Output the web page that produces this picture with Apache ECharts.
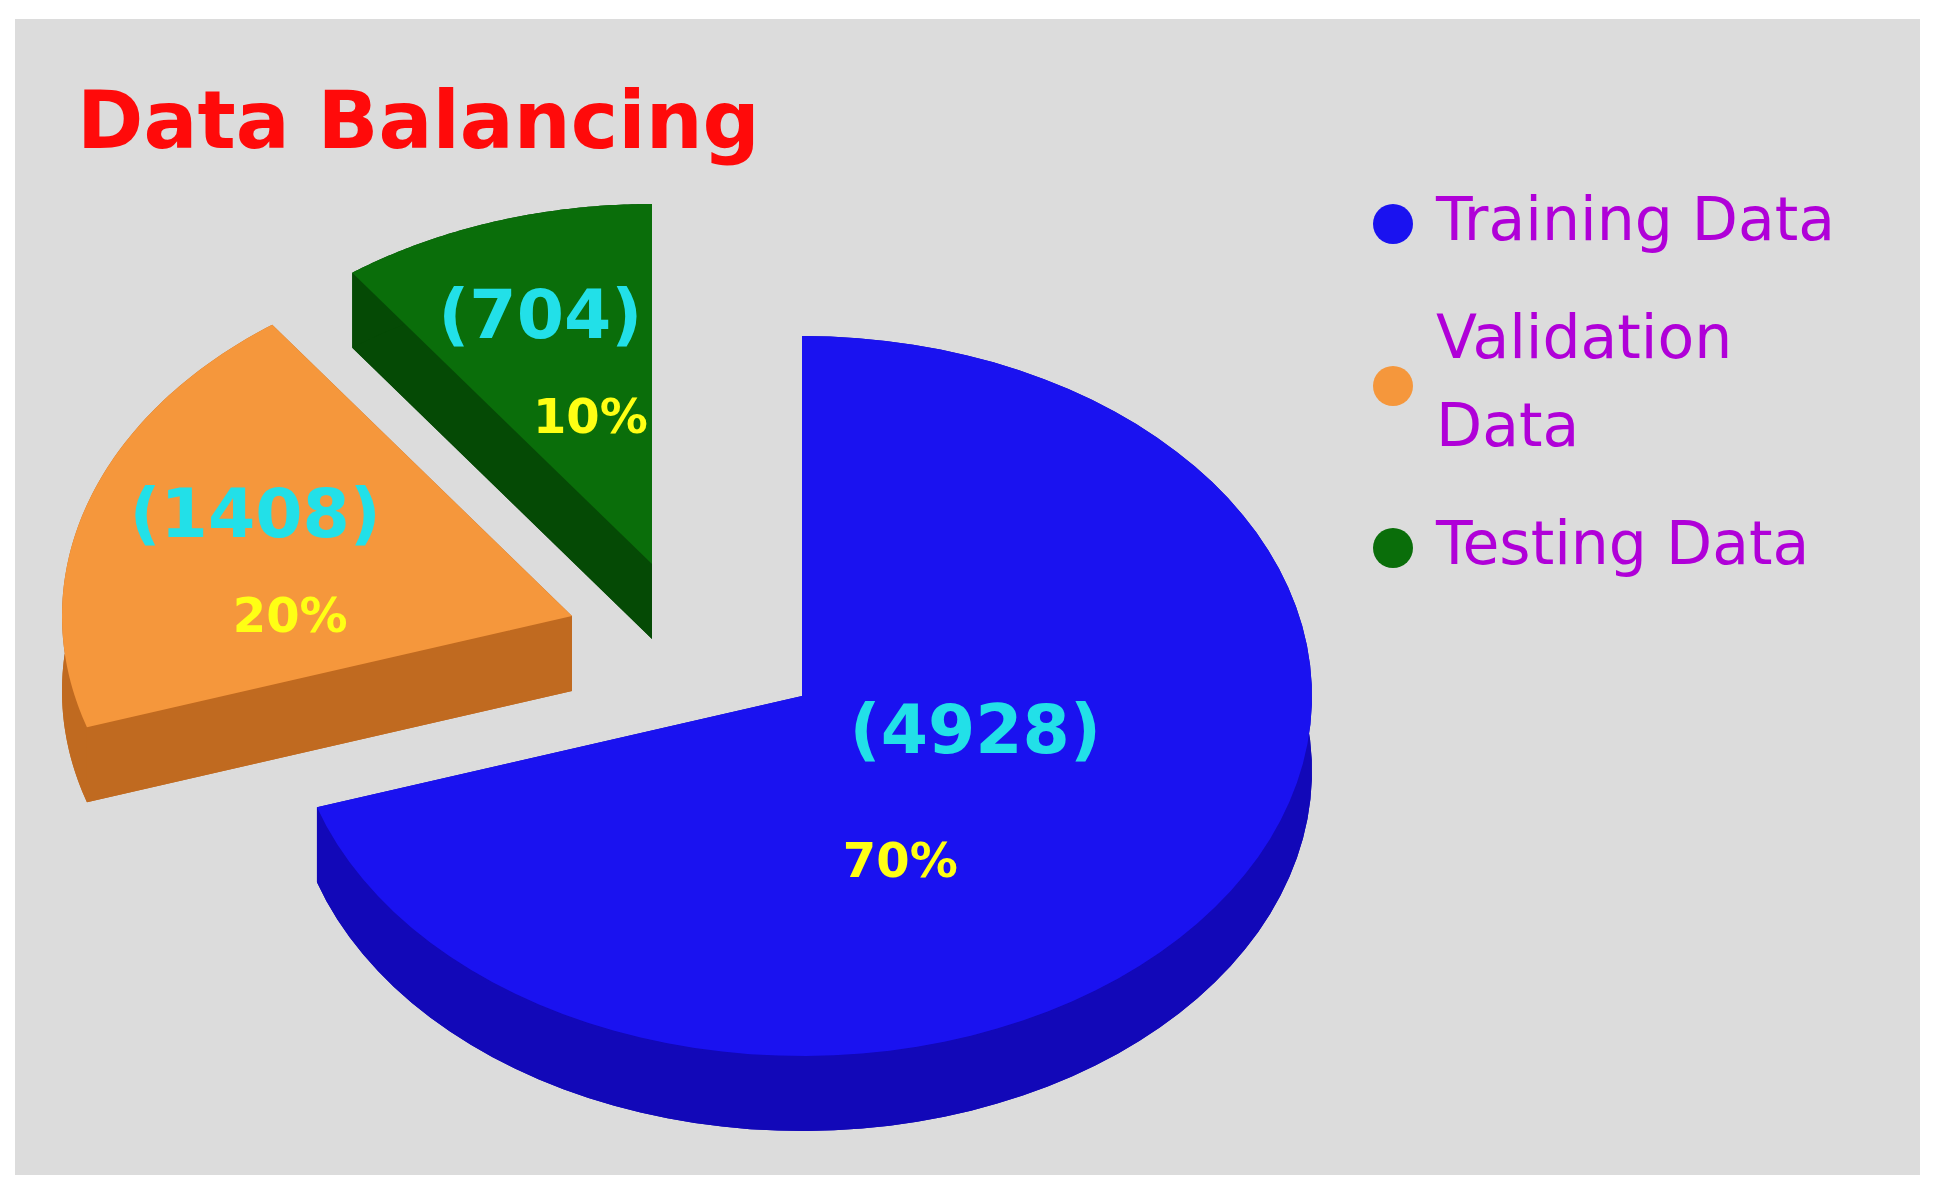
<!DOCTYPE html>
<html>
<head>
<meta charset="utf-8">
<script src="https://cdn.jsdelivr.net/npm/echarts@6/dist/echarts.min.js"></script>
<style>html,body{margin:0;background:#fff}</style>
</head>
<body>
<div id="main" style="width:1939px;height:1192px"></div>
<script>
var names = ['Training Data', 'Validation Data', 'Testing Data'];
var legendNames = ['Training Data', 'Validation\nData', 'Testing Data'];
var counts = [4928, 1408, 704];
var percents = [70, 20, 10];
var topColors = ['#1a12f0', '#f5973c', '#0a6e0a'];
var sideColors = ['#1208b8', '#c06a20', '#054a05'];

var cx = 802, cy = 696, rx = 510, ry = 360, depth = 75;
var offsets = [[0, 0], [-230, -80], [-150, -132]];
// label positions relative to slice centroid: [count dx, count dy, pct dx, pct dy]
var labelShift = [[0, -50, -75, 80], [-50, -35, -15, 65], [-25, -55, 25, 45]];
var total = percents.reduce(function (a, b) { return a + b; }, 0);

function pt(x0, y0, th, k) {
  return [x0 + rx * k * Math.sin(th), y0 - ry * k * Math.cos(th)];
}

var chart = echarts.init(document.getElementById('main'));
chart.setOption({
  backgroundColor: '#ffffff',
  graphic: [{ type: 'rect', shape: { x: 15, y: 19, width: 1905, height: 1156 }, style: { fill: '#dcdcdc' }, z: -10 }],
  title: {
    text: 'Data Balancing', left: 72, top: 82,
    textStyle: { color: '#ff0a0a', fontSize: 80, fontWeight: 'bold', fontFamily: 'DejaVu Sans' }
  },
  legend: {
    orient: 'vertical', left: 1368, top: 175, itemGap: 30, icon: 'circle', itemWidth: 40, itemHeight: 40,
    data: legendNames,
    textStyle: { color: '#b000d8', fontSize: 60, fontFamily: 'DejaVu Sans', padding: [0, 0, 0, 18], lineHeight: 88 }
  },
  series: [
    {
      type: 'pie', radius: [0, 0], center: [-100, -100], silent: true, label: { show: false },
      data: legendNames.map(function (n, i) { return { name: n, value: percents[i], itemStyle: { color: topColors[i] } }; })
    },
    {
      type: 'custom', coordinateSystem: 'none', silent: true,
      data: percents.map(function (p, i) { return [i, p]; }),
      renderItem: function (params, api) {
        var i = api.value(0);
        var before = 0;
        for (var j = 0; j < i; j++) before += percents[j];
        var a0 = before / total * Math.PI * 2, a1 = (before + percents[i]) / total * Math.PI * 2;
        var x0 = cx + offsets[i][0], y0 = cy + offsets[i][1];
        var n = 80, top = [[x0, y0]], bot = [[x0, y0 + depth]], arcT = [], arcB = [];
        for (var s = 0; s <= n; s++) {
          var th = a0 + (a1 - a0) * s / n;
          var p = pt(x0, y0, th, 1);
          top.push(p); bot.push([p[0], p[1] + depth]);
          arcT.push(p); arcB.push([p[0], p[1] + depth]);
        }
        var band = arcT.concat(arcB.reverse());
        var e0 = pt(x0, y0, a0, 1), e1 = pt(x0, y0, a1, 1);
        var mid = (a0 + a1) / 2;
        var c = pt(x0, y0, mid, i === 0 ? 0.42 : 0.55);
        var L = labelShift[i];
        return {
          type: 'group', children: [
            { type: 'polygon', shape: { points: bot }, style: { fill: sideColors[i] } },
            { type: 'polygon', shape: { points: [[x0, y0], e0, [e0[0], e0[1] + depth], [x0, y0 + depth]] }, style: { fill: sideColors[i] } },
            { type: 'polygon', shape: { points: [[x0, y0], e1, [e1[0], e1[1] + depth], [x0, y0 + depth]] }, style: { fill: sideColors[i] } },
            { type: 'polygon', shape: { points: band }, style: { fill: sideColors[i] } },
            { type: 'polygon', shape: { points: top }, style: { fill: topColors[i] } },
            { type: 'text', x: c[0] + L[0], y: c[1] + L[1], style: { text: '(' + counts[i] + ')', fill: '#22e0e8', fontSize: 68, fontWeight: 'bold', fontFamily: 'DejaVu Sans', align: 'center', verticalAlign: 'middle' } },
            { type: 'text', x: c[0] + L[2], y: c[1] + L[3], style: { text: percents[i] + '%', fill: '#ffff14', fontSize: 48, fontWeight: 'bold', fontFamily: 'DejaVu Sans', align: 'center', verticalAlign: 'middle' } }
          ]
        };
      }
    }
  ]
});
</script>
</body>
</html>
